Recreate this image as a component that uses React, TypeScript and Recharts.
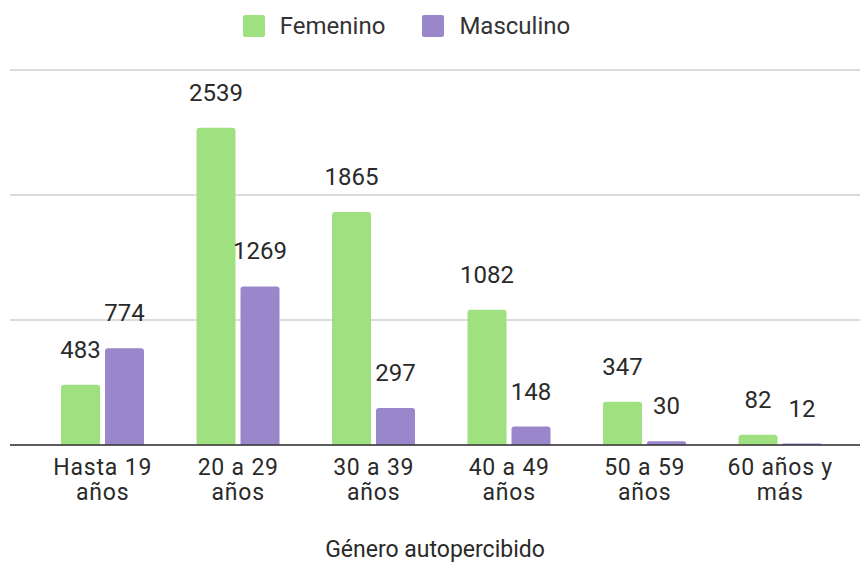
import { BarChart, Bar, XAxis, YAxis, CartesianGrid, Legend, LabelList } from "recharts"

const categories = ["Hasta 19 años", "20 a 29 años", "30 a 39 años", "40 a 49 años", "50 a 59 años", "60 años y más"]
const femenino = [483, 2539, 1865, 1082, 347, 82]
const masculino = [774, 1269, 297, 148, 30, 12]
const yTicks = [0, 1000, 2000, 3000]

const data = categories.map((c, i) => ({ cat: c, fem: femenino[i], masc: masculino[i] }))

const GREEN = "#9fe080"
const PURPLE = "#9a86cb"
const FONT = "Roboto, sans-serif"
const INK = "#2a2a2a"

function AgeTick({ x, y, payload }: any) {
  const s: string = payload.value
  const k = s.lastIndexOf(" ")
  const lines = [s.slice(0, k), s.slice(k + 1)]
  return (
    <text x={x} y={y} textAnchor="middle" fill={INK} fontSize={23} fontFamily={FONT} style={{ letterSpacing: 0.8 }}>
      {lines.map((l, i) => (
        <tspan key={i} x={x} dy={i === 0 ? 22 : 25}>{l}</tspan>
      ))}
    </text>
  )
}

function LegendBox() {
  const items = [["Femenino", GREEN], ["Masculino", PURPLE]]
  return (
    <div style={{ display: "flex", justifyContent: "center", paddingRight: 48, fontFamily: FONT, fontSize: 24, color: "#333" }}>
      {items.map(([n, c], i) => (
        <div key={n} style={{ display: "flex", alignItems: "center", marginLeft: i ? 37 : 0 }}>
          <span style={{ width: 22, height: 22, background: c, borderRadius: 2, marginRight: 15, display: "inline-block" }} />
          <span>{n}</span>
        </div>
      ))}
    </div>
  )
}

export default function App() {
  return (
    <div style={{ position: "absolute", left: 0, top: 0 }}>
      <BarChart width={861} height={564} data={data} margin={{ top: 70, right: 1, left: 10, bottom: 0 }} barSize={39} barGap={5}>
        <CartesianGrid vertical={false} stroke="#cfcfcf" strokeWidth={1.5} />
        <YAxis hide domain={[0, 3000]} ticks={yTicks} />
        <XAxis
          dataKey="cat"
          height={119}
          interval={0}
          padding={{ left: 25, right: 12 }}
          axisLine={{ stroke: "#333", strokeWidth: 1.5 }}
          tickLine={false}
          tick={<AgeTick />}
          label={{ value: "Género autopercibido", position: "insideBottom", offset: 7, fill: INK, fontSize: 23, fontFamily: FONT }}
        />
        <Legend layout="horizontal" verticalAlign="middle" align="center" wrapperStyle={{ top: 12, left: 0, width: 861 }} content={() => <LegendBox />} />
        <Bar dataKey="fem" name="Femenino" fill={GREEN} radius={[3, 3, 0, 0]} isAnimationActive={false}>
          <LabelList dataKey="fem" position="top" offset={27} fill={INK} fontSize={24} fontFamily={FONT} />
        </Bar>
        <Bar dataKey="masc" name="Masculino" fill={PURPLE} radius={[3, 3, 0, 0]} isAnimationActive={false}>
          <LabelList dataKey="masc" position="top" offset={27} fill={INK} fontSize={24} fontFamily={FONT} />
        </Bar>
      </BarChart>
    </div>
  )
}
